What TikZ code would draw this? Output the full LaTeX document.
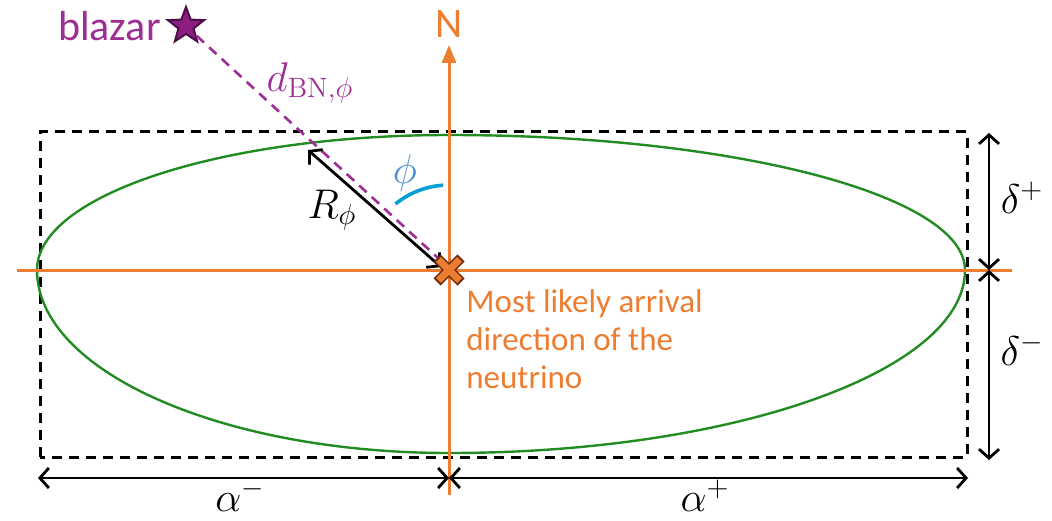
\documentclass[tikz,border=0pt]{standalone}
\usepackage{fontspec}
\setsansfont{Carlito}
\usetikzlibrary{arrows.meta,shapes.geometric,positioning}
\definecolor{nuorange}{RGB}{237,125,49}
\definecolor{crossedge}{RGB}{110,45,15}
\definecolor{ellgreen}{RGB}{34,140,34}
\definecolor{bpurple}{RGB}{158,45,148}
\definecolor{starfill}{RGB}{140,30,130}
\definecolor{staredge}{RGB}{75,15,70}
\definecolor{arcblue}{RGB}{0,160,215}
\definecolor{phiblue}{RGB}{70,140,215}
\tikzset{
  axisline/.style={nuorange, line width=1.5pt},
  regionbox/.style={line width=1.5pt, dash pattern=on 5pt off 3.5pt},
  dimarrow/.style={line width=1.4pt, {Straight Barb[length=4.5pt,width=10pt]}-{Straight Barb[length=4.5pt,width=10pt]}},
  mathlbl/.style={font=\fontsize{20}{24}\selectfont},
  txtlbl/.style={font=\sffamily\fontsize{16.5}{19}\selectfont},
  biglbl/.style={font=\sffamily\fontsize{21}{24}\selectfont}
}
\begin{document}
\begin{tikzpicture}[x=0.5pt,y=0.5pt]
  \useasboundingbox (0,0) rectangle (1052,520);
  % reference points
  \coordinate (C) at (449,250);
  \coordinate (W) at (17,250);
  \coordinate (E) at (1012,250);
  \coordinate (S) at (449,25);
  \coordinate (Ntip) at (449,475);
  % error region
  \draw[regionbox] (40,63) rectangle (967,388);
  \draw[ellgreen, line width=1.2pt] (37,250)
    arc[start angle=180, end angle=90, x radius=412, y radius=135]
    arc[start angle=90, end angle=0, x radius=516, y radius=135]
    arc[start angle=0, end angle=-90, x radius=516, y radius=183]
    arc[start angle=270, end angle=180, x radius=412, y radius=183];
  % axes
  \draw[axisline] (W) -- (E);
  \draw[axisline, -{Triangle[length=9pt,width=7pt]}] (S) -- (Ntip);
  \node[biglbl, text=nuorange] (N) at (449,496) {N};
  % extensions
  \coordinate (dTop) at (989,387);
  \coordinate (dMid) at (989,250);
  \coordinate (dBot) at (989,60);
  \draw[dimarrow] (dTop) -- (dMid);
  \draw[dimarrow] (dMid) -- (dBot);
  \node[mathlbl] (dplus) at (1022,322) {$\delta^+$};
  \node[mathlbl] (dminus) at (1022,170) {$\delta^-$};
  \coordinate (aL) at (38,42);
  \coordinate (aM) at (449,42);
  \coordinate (aR) at (968,42);
  \draw[dimarrow] (aL) -- (aM);
  \draw[dimarrow] (aM) -- (aR);
  \node[mathlbl] (aminus) at (240,24) {$\alpha^-$};
  \node[mathlbl] (aplus) at (705,24) {$\alpha^+$};
  % blazar
  \node[star, star points=5, star point ratio=2.4, fill=starfill, draw=staredge,
        line width=1pt, minimum size=19pt, inner sep=0pt] (blazar) at (186,494) {};
  \node[biglbl, text=bpurple, left=3pt of blazar] (blazarlbl) {blazar};
  \coordinate (Pend) at (438,262);
  \draw[bpurple, line width=1.3pt, dash pattern=on 5pt off 3.5pt] (blazar) -- (Pend);
  \node[mathlbl, text=bpurple] (dlbl) at (310,437) {$d_{\mathrm{BN},\phi}$};
  % radius
  \coordinate (Rtop) at (308,370);
  \coordinate (Rbot) at (441,253);
  \draw[dimarrow] (Rtop) -- (Rbot);
  \node[mathlbl] (rlbl) at (332,310) {$R_\phi$};
  % angle
  \draw[arcblue, line width=1.8pt] ([shift={(94:85)}]C) arc[start angle=94, end angle=129, radius=85];
  \node[mathlbl, text=phiblue] (philbl) at (405,347) {$\phi$};
  % best-fit direction
  \draw[crossedge, line width=5pt] (C) ++(-12,-12) -- ++(24,24) (C) ++(-12,12) -- ++(24,-24);
  \draw[nuorange, line width=3.4pt] (C) ++(-10.5,-10.5) -- ++(21,21) (C) ++(-10.5,10.5) -- ++(21,-21);
  \node[txtlbl, text=nuorange, align=left, anchor=north west, inner sep=0pt] (msg) at (466,231)
    {Most likely arrival\\direction of the\\neutrino};
\end{tikzpicture}
\end{document}
